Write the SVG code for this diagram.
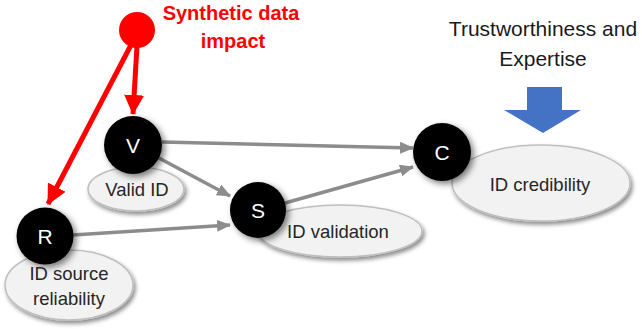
<svg xmlns="http://www.w3.org/2000/svg" width="642" height="329" viewBox="0 0 642 329">
<style>
.lbl{font-family:"Liberation Sans",Arial,sans-serif;font-size:18.5px;fill:#262626;text-anchor:middle}
.let{font-family:"Liberation Sans",Arial,sans-serif;font-size:21px;fill:#ffffff;text-anchor:middle}
.oval{fill:#f2f2f2;stroke:#bfbfbf;stroke-width:1.5;filter:url(#sh)}
.dot{fill:#000;filter:url(#sh2)}
.gray{stroke:#8c8c8c;stroke-width:3.5;fill:none;marker-end:url(#ga)}
.red{stroke:#ff0000;stroke-width:5;fill:none;marker-end:url(#ra)}
</style>
<defs>
<filter id="sh" x="-20%" y="-20%" width="140%" height="150%">
<feDropShadow dx="2" dy="3" stdDeviation="2" flood-color="#000" flood-opacity="0.45"/>
</filter>
<filter id="sh2" x="-30%" y="-30%" width="170%" height="170%">
<feDropShadow dx="3" dy="3" stdDeviation="3" flood-color="#000" flood-opacity="0.5"/>
</filter>
<marker id="ga" markerUnits="userSpaceOnUse" markerWidth="14" markerHeight="12" refX="13" refY="6" orient="auto">
<path d="M0,0 L14,6 L0,12 Z" fill="#8c8c8c"/>
</marker>
<marker id="ra" markerUnits="userSpaceOnUse" markerWidth="20" markerHeight="20" refX="19" refY="10" orient="auto">
<path d="M0,0 L20,10 L0,20 Z" fill="#ff0000"/>
</marker>
</defs>
<rect width="642" height="329" fill="#fff"/>

<g id="title-synthetic">
<text x="231" y="20" font-family="Liberation Sans,Arial,sans-serif" font-size="20" font-weight="bold" fill="#ff0000" text-anchor="middle">Synthetic data</text>
<text x="233" y="48" font-family="Liberation Sans,Arial,sans-serif" font-size="20" font-weight="bold" fill="#ff0000" text-anchor="middle">impact</text>
</g>
<g id="title-trust">
<text x="543" y="36" font-family="Liberation Sans,Arial,sans-serif" font-size="21" fill="#1a1a1a" text-anchor="middle">Trustworthiness and</text>
<text x="543" y="66" font-family="Liberation Sans,Arial,sans-serif" font-size="21" fill="#1a1a1a" text-anchor="middle">Expertise</text>
</g>
<g id="blue-arrow">
<polygon points="527,87 562,87 562,110 581,110 543,133 504,110 527,110" fill="#4472c4"/>
</g>

<g id="ovals">
<ellipse id="oval-V" class="oval" cx="136" cy="189" rx="48" ry="22"/>
<ellipse id="oval-S" class="oval" cx="340" cy="231" rx="82" ry="26"/>
<ellipse id="oval-R" class="oval" cx="69" cy="285" rx="64" ry="35"/>
<ellipse id="oval-C" class="oval" cx="541" cy="183" rx="89" ry="38"/>
</g>

<g id="connectors">
<line class="gray" x1="162" y1="142" x2="413" y2="148"/>
<line class="gray" x1="157" y1="157" x2="230" y2="196"/>
<line class="gray" x1="73" y1="235" x2="230" y2="225"/>
<line class="gray" x1="285" y1="203" x2="413" y2="167"/>
<line class="red" x1="137" y1="46" x2="133" y2="114"/>
<line class="red" x1="131" y1="45" x2="48" y2="204"/>
</g>

<g id="node-impact"><circle cx="137" cy="30" r="18" fill="#ff0000"/></g>

<g id="node-V">
<circle class="dot" cx="133" cy="145" r="29"/>
<text class="let" x="133" y="153">V</text>
<text class="lbl" x="137" y="196">Valid ID</text>
</g>
<g id="node-S">
<circle class="dot" cx="258" cy="210" r="28"/>
<text class="let" x="258" y="218">S</text>
<text class="lbl" x="338" y="238">ID validation</text>
</g>
<g id="node-R">
<circle class="dot" cx="45" cy="236" r="28.5"/>
<text class="let" x="45" y="244">R</text>
<text class="lbl" x="69" y="280">ID source</text>
<text class="lbl" x="69" y="305">reliability</text>
</g>
<g id="node-C">
<circle class="dot" cx="442" cy="152" r="29"/>
<text class="let" x="442" y="160">C</text>
<text class="lbl" x="540" y="191">ID credibility</text>
</g>
</svg>
